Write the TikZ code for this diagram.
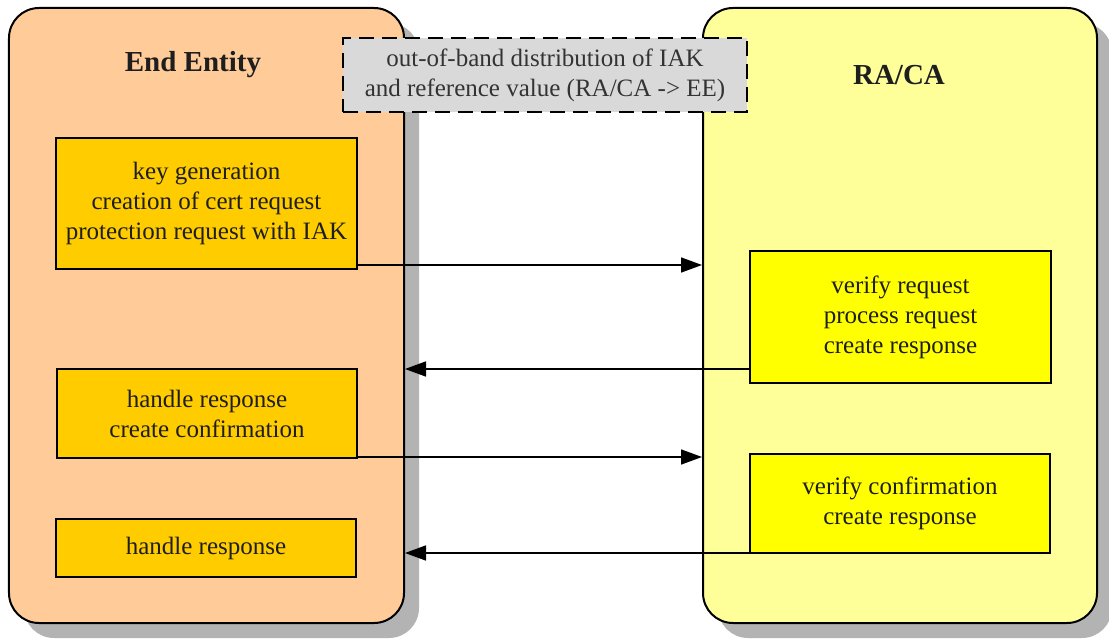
\documentclass[tikz,border=0pt]{standalone}
\usepackage{fontspec}
\setmainfont{Liberation Serif}
\usetikzlibrary{arrows.meta,calc}
\definecolor{eefill}{HTML}{FFCC99}
\definecolor{cafill}{HTML}{FFFF99}
\definecolor{eestep}{HTML}{FFCC00}
\definecolor{castep}{HTML}{FFFF00}
\definecolor{oobfill}{HTML}{D9D9D9}
\definecolor{shade}{HTML}{B3B3B3}
\definecolor{ink}{HTML}{1E1E1E}
\tikzset{
  party/.style={draw=black, line width=2bp, rounded corners=30bp, inner sep=0pt},
  partyshadow/.style={fill=shade, rounded corners=30bp},
  stepbox/.style={draw=black, line width=2bp, inner sep=0pt, align=center,
    text=ink, font=\fontsize{25bp}{30bp}\selectfont},
  title/.style={font=\fontsize{29bp}{34bp}\selectfont\bfseries, text=ink},
  oob/.style={draw=black, line width=2.5bp, dash pattern=on 15bp off 8bp,
    fill=oobfill, inner sep=0pt, align=center, text=black!80,
    font=\fontsize{25bp}{30bp}\selectfont},
  msg/.style={line width=1.6bp, -{Triangle[length=21bp,width=15bp]}}
}
\begin{document}
\begin{tikzpicture}[x={(1bp,0)}, y={(0,-1bp)}]
  \useasboundingbox (0,0) rectangle (1109,639);

  % drop shadows of the two parties
  \fill[partyshadow] (24,23) rectangle (419,638);
  \fill[partyshadow] (718,23) rectangle (1112,638);

  % the two parties
  \node[party, fill=eefill, minimum width=395bp, minimum height=615bp] (ee) at (206.5,315.5) {};
  \node[party, fill=cafill, minimum width=394bp, minimum height=615bp] (ca) at (900,315.5) {};
  \node[title] (eetitle) at (193,65) {End Entity};
  \node[title] (catitle) at (899,75) {RA/CA};

  % out-of-band channel
  \node[oob, minimum width=404bp, minimum height=74bp] (band) at (545,75)
    {out-of-band distribution of IAK\\and reference value (RA/CA -> EE)};

  % end entity steps
  \node[stepbox, fill=eestep, minimum width=301bp, minimum height=131bp] (req) at (206.5,203.5)
    {key generation\\creation of cert request\\protection request with IAK};
  \node[stepbox, fill=eestep, minimum width=300bp, minimum height=89bp] (conf) at (207,413.5)
    {handle response\\create confirmation};
  \node[stepbox, fill=eestep, minimum width=300bp, minimum height=58bp] (done) at (206,548)
    {handle response};

  % RA/CA steps
  \node[stepbox, fill=castep, minimum width=301bp, minimum height=132bp] (proc) at (900.5,317)
    {verify request\\process request\\create response};
  \node[stepbox, fill=castep, minimum width=300bp, minimum height=99bp] (vconf) at (900,503.5)
    {verify confirmation\\create response};

  % messages
  \draw[msg] ([yshift=5bp]req.south east) -- ([yshift=5bp]req.south east -| ca.west);
  \draw[msg] ([yshift=15bp]proc.south west) -- ([yshift=15bp]proc.south west -| ee.east);
  \draw[msg] ([yshift=2bp]conf.south east) -- ([yshift=2bp]conf.south east -| ca.west);
  \draw[msg] ([yshift=1bp]vconf.south west) -- ([yshift=1bp]vconf.south west -| ee.east);
\end{tikzpicture}
\end{document}
